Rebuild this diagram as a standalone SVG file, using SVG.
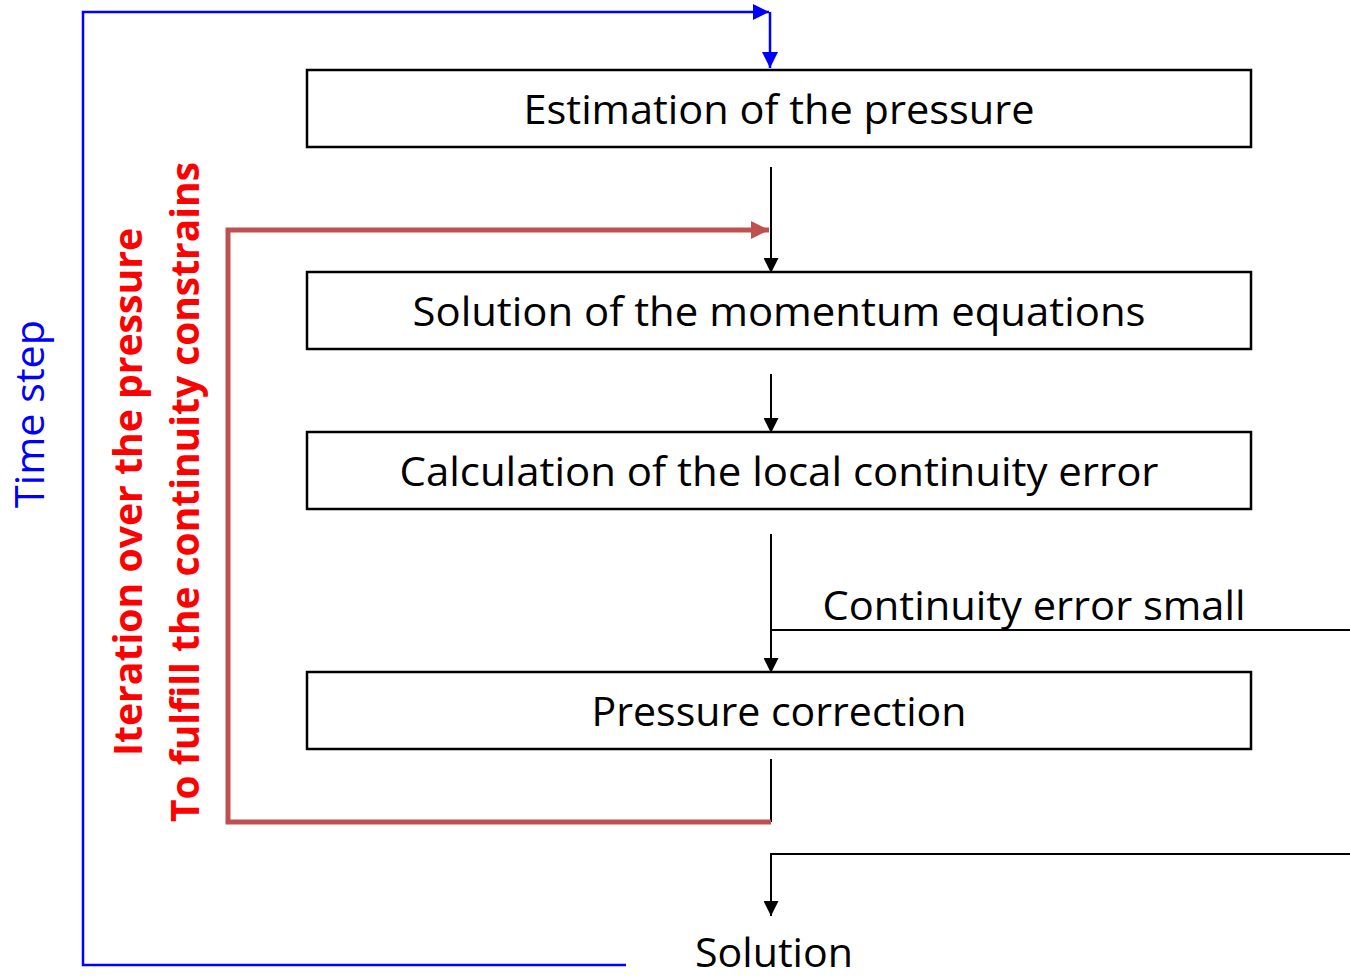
<svg xmlns="http://www.w3.org/2000/svg" width="1350" height="977" viewBox="0 0 1350 977">
<defs>
<style>
.box{fill:#fff;stroke:#000;stroke-width:2.5}
.t{font-family:"Open Sans","Liberation Sans",sans-serif;font-size:40px;fill:#000;text-anchor:middle}
.bk{stroke:#000;stroke-width:2;fill:none}
.bl{stroke:#0000FF;stroke-width:2.5;fill:none}
.rd{stroke:#C0504D;stroke-width:5;fill:none}
</style>
<marker id="ab" viewBox="0 0 10 10" refX="10" refY="5" markerWidth="15" markerHeight="15" markerUnits="userSpaceOnUse" orient="auto"><path d="M0,0L10,5L0,10z" fill="#000"/></marker>
<marker id="au" viewBox="0 0 10 10" refX="10" refY="5" markerWidth="16" markerHeight="16" markerUnits="userSpaceOnUse" orient="auto"><path d="M0,0L10,5L0,10z" fill="#0000FF"/></marker>
<marker id="ar" viewBox="0 0 10 10" refX="10" refY="5" markerWidth="18" markerHeight="18" markerUnits="userSpaceOnUse" orient="auto"><path d="M0,0L10,5L0,10z" fill="#C0504D"/></marker>
</defs>
<rect width="1350" height="977" fill="#fff"/>
<g id="connectors">
<path class="bl" d="M626,965H83V12H769" marker-end="url(#au)"/>
<path class="bl" d="M770,12V68" marker-end="url(#au)"/>
<path class="bk" d="M771,167V273" marker-end="url(#ab)"/>
<path class="bk" d="M771,374V433" marker-end="url(#ab)"/>
<path class="bk" d="M771,534V673" marker-end="url(#ab)"/>
<path class="bk" d="M771,630H1350"/>
<path class="bk" d="M771,759V822"/>
<path class="bk" d="M1350,854H771V916" marker-end="url(#ab)"/>
<path class="rd" d="M771,822H228V230H769" marker-end="url(#ar)"/>
</g>
<g id="n1"><rect class="box" x="307" y="70" width="944" height="77"/><text class="t" x="779" y="124" textLength="511" lengthAdjust="spacingAndGlyphs">Estimation of the pressure</text></g>
<g id="n2"><rect class="box" x="307" y="272" width="944" height="77"/><text class="t" x="779" y="326" textLength="733" lengthAdjust="spacingAndGlyphs">Solution of the momentum equations</text></g>
<g id="n3"><rect class="box" x="307" y="432" width="944" height="77"/><text class="t" x="779" y="486" textLength="759" lengthAdjust="spacingAndGlyphs">Calculation of the local continuity error</text></g>
<g id="n4"><rect class="box" x="307" y="672" width="944" height="77"/><text class="t" x="779" y="726" textLength="375" lengthAdjust="spacingAndGlyphs">Pressure correction</text></g>
<g id="l1"><text class="t" x="1034" y="620" textLength="423" lengthAdjust="spacingAndGlyphs">Continuity error small</text></g>
<g id="n5"><text class="t" x="774" y="967" textLength="158" lengthAdjust="spacingAndGlyphs">Solution</text></g>
<g id="l2"><text class="t" transform="translate(44,414) rotate(-90)" style="fill:#0000FF" textLength="188" lengthAdjust="spacingAndGlyphs">Time step</text></g>
<g id="l3"><text class="t" transform="translate(142,492) rotate(-90)" style="fill:#FF0000;font-weight:bold" textLength="528" lengthAdjust="spacingAndGlyphs">Iteration over the pressure</text>
<text class="t" transform="translate(199,492) rotate(-90)" style="fill:#FF0000;font-weight:bold" textLength="660" lengthAdjust="spacingAndGlyphs">To fulfill the continuity constrains</text></g>
</svg>
